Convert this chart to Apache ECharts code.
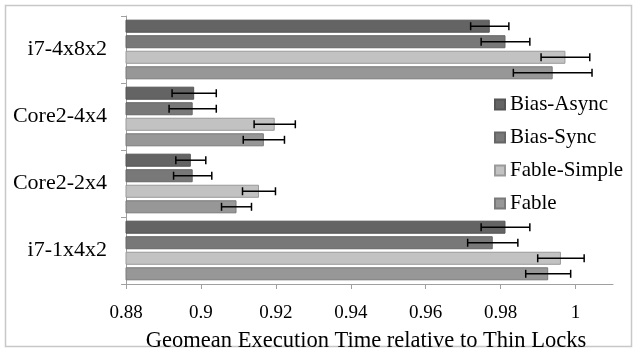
<!DOCTYPE html>
<html><head><meta charset="utf-8">
<script src="https://cdn.jsdelivr.net/npm/echarts@6/dist/echarts.min.js"></script>
<style>html,body{margin:0;padding:0;background:#fff}#c{width:636px;height:349px}</style>
</head><body><div id="c"></div>
<script>
const categories = ['i7-1x4x2', 'Core2-2x4', 'Core2-4x4', 'i7-4x8x2'];
const seriesNames = ['Bias-Async', 'Bias-Sync', 'Fable-Simple', 'Fable'];
const biasAsync = [0.9813, 0.8973, 0.8982, 0.9771];
const biasAsyncErr = [0.0065, 0.0040, 0.0059, 0.0051];
const biasSync = [0.9779, 0.8978, 0.8978, 0.9813];
const biasSyncErr = [0.0067, 0.0051, 0.0063, 0.0065];
const fableSimple = [0.9961, 0.9155, 0.9197, 0.9973];
const fableSimpleErr = [0.0062, 0.0044, 0.0055, 0.0065];
const fable = [0.9927, 0.9095, 0.9168, 0.9939];
const fableErr = [0.0060, 0.0040, 0.0055, 0.0105];
const xTicks = [0.88, 0.9, 0.92, 0.94, 0.96, 0.98, 1];

const values = [biasAsync, biasSync, fableSimple, fable];
const errs = [biasAsyncErr, biasSyncErr, fableSimpleErr, fableErr];
const colors = ['#646464', '#787878', '#c2c2c2', '#979797'];
const borders = ['#555555', '#666666', '#9a9a9a', '#7a7a7a'];
const CAT_GAP = 0.11, BAR_GAP = 0.19;
const FONT = '"Liberation Serif", "DejaVu Serif", serif';

const chart = echarts.init(document.getElementById('c'));
const series = [];
values.forEach((vals, k) => {
  series.push({
    name: seriesNames[k], type: 'bar', data: vals,
    barCategoryGap: (CAT_GAP * 100) + '%', barGap: (BAR_GAP * 100) + '%',
    itemStyle: { color: colors[k], borderColor: borders[k], borderWidth: 1 },
    emphasis: { disabled: true }, animation: false
  });
});
values.forEach((vals, k) => {
  series.push({
    type: 'custom', silent: true, animation: false, z: 5,
    data: vals.map((v, i) => [i, v, errs[k][i]]),
    encode: { y: 0, x: 1 },
    renderItem: (params, api) => {
      const ci = api.value(0), v = api.value(1), e = api.value(2);
      const band = api.size([0, 1])[1];
      const total = band * (1 - CAT_GAP);
      const w = total / (4 + 3 * BAR_GAP);
      const off = -total / 2 + k * w * (1 + BAR_GAP) + w / 2;
      const p0 = api.coord([v - e, ci]);
      const p1 = api.coord([v + e, ci]);
      const y = p0[1] + off;
      const h = 4;
      const st = { stroke: '#000', lineWidth: 1.5 };
      return { type: 'group', children: [
        { type: 'line', shape: { x1: p0[0], y1: y, x2: p1[0], y2: y }, style: st },
        { type: 'line', shape: { x1: p0[0], y1: y - h, x2: p0[0], y2: y + h }, style: st },
        { type: 'line', shape: { x1: p1[0], y1: y - h, x2: p1[0], y2: y + h }, style: st }
      ]};
    }
  });
});

chart.setOption({
  animation: false,
  graphic: [{ type: 'rect', shape: { x: 5.5, y: 5.5, width: 626, height: 341 },
    style: { fill: 'none', stroke: '#c8c8c8', lineWidth: 1.5 }, silent: true }],
  legend: {
    data: seriesNames, orient: 'vertical', left: 489, top: 89,
    icon: 'rect', itemWidth: 10, itemHeight: 10, itemGap: 12,
    textStyle: { fontFamily: FONT, fontSize: 21, color: '#000', lineHeight: 21 },
    selectedMode: false
  },
  grid: { left: 126, right: 23, top: 16, bottom: 65, containLabel: false, outerBoundsMode: 'none' },
  xAxis: {
    type: 'value', min: 0.88, max: 1.01,
    name: 'Geomean Execution Time relative to Thin Locks',
    nameLocation: 'middle', nameGap: 46,
    nameTextStyle: { fontFamily: FONT, fontSize: 22.5, color: '#000', padding: [0, 7, 0, 0] },
    axisLine: { show: true, lineStyle: { color: '#a0a0a0', width: 1 } },
    axisTick: { show: true, length: 5, lineStyle: { color: '#a0a0a0' }, customValues: xTicks },
    axisLabel: { fontFamily: FONT, fontSize: 19, color: '#000', margin: 20, customValues: xTicks },
    splitLine: { show: false }
  },
  yAxis: {
    type: 'category', data: categories,
    axisLine: { show: true, lineStyle: { color: '#a0a0a0', width: 1 } },
    axisTick: { show: true, length: 5, lineStyle: { color: '#a0a0a0' } },
    axisLabel: { fontFamily: FONT, fontSize: 22, color: '#000', margin: 19 }
  },
  series: series
});
</script></body></html>
